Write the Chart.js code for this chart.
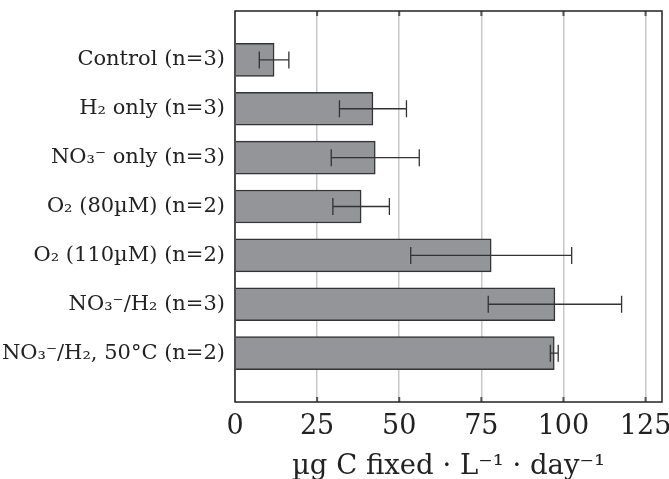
<!DOCTYPE html>
<html>
<head>
    <title>Carbon fixation</title>
    <script src="https://cdn.jsdelivr.net/npm/chart.js"></script>
    <style>
        body {
            margin: 0;
            background: white;
        }
        .chart-container {
            width: 669px;
            height: 479px;
            position: relative;
        }
    </style>
</head>
<body>
    <div class="chart-container">
        <canvas id="fix-chart"></canvas>
    </div>

    <script>
        // treatments, top to bottom
        const categories = [
            'Control (n=3)',
            'H\u2082 only (n=3)',
            'NO\u2083\u207B only (n=3)',
            'O\u2082 (80\u00B5M) (n=2)',
            'O\u2082 (110\u00B5M) (n=2)',
            'NO\u2083\u207B/H\u2082 (n=3)',
            'NO\u2083\u207B/H\u2082, 50\u00B0C (n=2)'
        ];
        const meanFixed = [11.9, 42, 42.7, 38.4, 78, 97.4, 97.2];
        const errFixed = [4.5, 10.2, 13.4, 8.6, 24.5, 20.3, 1.2];
        const xTicks = [0, 25, 50, 75, 100, 125];

        const serif = "'DejaVu Serif', serif";

        // blank slot above and below so the bars sit at 1..7 of 8 steps
        const labels = [''].concat(categories, ['']);
        const values = [null].concat(meanFixed, [null]);

        const errorBars = {
            id: 'errorBars',
            afterDatasetsDraw(chart) {
                const ctx = chart.ctx;
                const xs = chart.scales.x;
                const ys = chart.scales.y;
                ctx.save();
                ctx.strokeStyle = '#333';
                ctx.lineWidth = 1.3;
                meanFixed.forEach((m, i) => {
                    const y = ys.getPixelForValue(i + 1);
                    const x1 = xs.getPixelForValue(m - errFixed[i]);
                    const x2 = xs.getPixelForValue(m + errFixed[i]);
                    ctx.beginPath();
                    ctx.moveTo(x1, y);
                    ctx.lineTo(x2, y);
                    ctx.moveTo(x1, y - 8.5);
                    ctx.lineTo(x1, y + 8.5);
                    ctx.moveTo(x2, y - 8.5);
                    ctx.lineTo(x2, y + 8.5);
                    ctx.stroke();
                });
                ctx.restore();
            }
        };

        const frame = {
            id: 'frame',
            afterDraw(chart) {
                const ctx = chart.ctx;
                const a = chart.chartArea;
                const xs = chart.scales.x;
                ctx.save();
                ctx.strokeStyle = '#555';
                ctx.lineWidth = 2;
                xTicks.forEach(v => {
                    if (v === 0) return;
                    const x = xs.getPixelForValue(v);
                    ctx.beginPath();
                    ctx.moveTo(x, a.top);
                    ctx.lineTo(x, a.top + 5);
                    ctx.moveTo(x, a.bottom);
                    ctx.lineTo(x, a.bottom - 5);
                    ctx.stroke();
                });
                ctx.strokeStyle = '#222';
                ctx.lineWidth = 1.5;
                ctx.strokeRect(a.left, a.top, a.right - a.left, a.bottom - a.top);
                ctx.restore();
            }
        };

        const ctx = document.getElementById('fix-chart').getContext('2d');
        new Chart(ctx, {
            type: 'bar',
            data: {
                labels: labels,
                datasets: [{
                    data: values,
                    backgroundColor: '#939598',
                    borderColor: '#333',
                    borderWidth: 1.5,
                    barThickness: 33
                }]
            },
            options: {
                indexAxis: 'y',
                responsive: true,
                maintainAspectRatio: false,
                animation: false,
                layout: {
                    padding: { left: 0, right: 7, top: 11, bottom: 0 }
                },
                plugins: {
                    legend: { display: false },
                    tooltip: { enabled: false }
                },
                scales: {
                    x: {
                        type: 'linear',
                        min: 0,
                        max: 130,
                        afterBuildTicks: scale => {
                            scale.ticks = xTicks.map(v => ({ value: v }));
                        },
                        afterFit: scale => {
                            scale.height = 77;
                            scale.paddingLeft = 0;
                            scale.paddingRight = 0;
                        },
                        grid: {
                            color: '#c8c8c8',
                            lineWidth: 1.5,
                            drawTicks: false
                        },
                        border: { display: false },
                        ticks: {
                            padding: 9,
                            color: '#222',
                            font: { family: serif, size: 27 }
                        },
                        title: {
                            display: true,
                            text: '\u00B5g C fixed \u00B7 L\u207B\u00B9 \u00B7 day\u207B\u00B9',
                            color: '#222',
                            padding: { top: 0, bottom: -4 },
                            font: { family: serif, size: 27.5 }
                        }
                    },
                    y: {
                        type: 'category',
                        offset: false,
                        afterFit: scale => {
                            scale.width = 235;
                            scale.paddingTop = 0;
                            scale.paddingBottom = 0;
                        },
                        grid: { display: false, drawTicks: false },
                        border: { display: false },
                        ticks: {
                            padding: 10,
                            autoSkip: false,
                            color: '#222',
                            font: { family: serif, size: 21 }
                        }
                    }
                }
            },
            plugins: [errorBars, frame]
        });
    </script>
</body>
</html>
